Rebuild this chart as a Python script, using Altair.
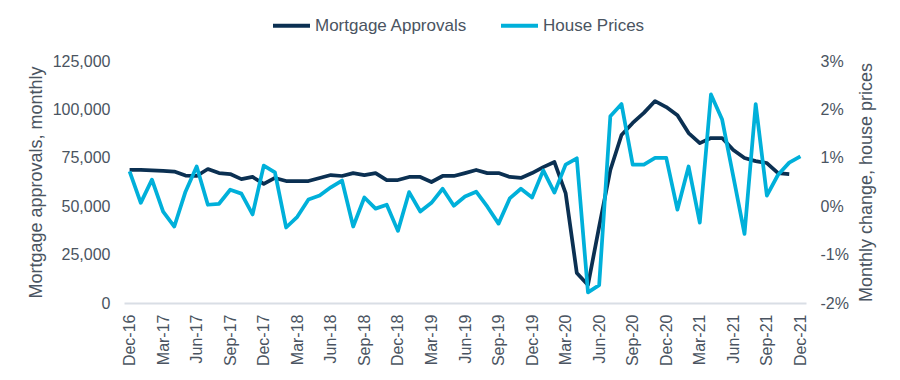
import altair as alt
import pandas as pd

months = [d.strftime("%b-%y") for d in pd.date_range("2016-12-01", "2021-12-01", freq="MS")]

approvals = [
    68700, 68700, 68500, 68200, 67900, 65800, 65600, 69200, 67100, 66600,
    64000, 65100, 61500, 64600, 63000, 63000, 63000, 64600, 66100, 65600,
    67100, 66100, 67100, 63500, 63500, 65100, 65100, 62500, 65600, 65600,
    67100, 68700, 67100, 67100, 65100, 64600, 67100, 70200, 72800, 56800,
    15500, 9300, 39500, 68700, 86800, 93000, 98200, 104300, 101200, 97000,
    87800, 82600, 85200, 85200, 79000, 74900, 73300, 72300, 67100, 66600,
]

house_prices = [
    0.72, 0.07, 0.55, -0.11, -0.42, 0.30, 0.82, 0.03, 0.05, 0.34,
    0.26, -0.17, 0.84, 0.70, -0.44, -0.22, 0.14, 0.22, 0.39, 0.53,
    -0.42, 0.18, -0.05, 0.03, -0.51, 0.29, -0.11, 0.07, 0.36, 0.01,
    0.20, 0.30, -0.01, -0.36, 0.16, 0.36, 0.18, 0.74, 0.28, 0.86,
    0.99, -1.78, -1.63, 1.86, 2.11, 0.86, 0.86, 1.00, 1.00, -0.07,
    0.82, -0.34, 2.31, 1.79, 0.61, -0.57, 2.11, 0.22, 0.65, 0.90,
    1.03,
]

series_names = ["Mortgage Approvals", "House Prices"]
series_colors = ["#0b3052", "#00b0da"]

df_a = pd.DataFrame({"month": months[:len(approvals)], "value": approvals, "series": series_names[0]})
df_h = pd.DataFrame({"month": months[:len(house_prices)], "value": house_prices, "series": series_names[1]})

FONT = "Liberation Sans"
TXT = "#4a5461"

x = alt.X(
    "month:N",
    scale=alt.Scale(type="point", domain=months, padding=0.5),
    axis=alt.Axis(
        values=months[::3], labelAngle=-90, title=None, ticks=False, tickSize=0,
        labelPadding=11, domainColor="#d9dee5", domainWidth=2, grid=False,
        labelFontSize=16, labelColor=TXT, labelFont=FONT,
    ),
)

color = alt.Color(
    "series:N",
    scale=alt.Scale(domain=series_names, range=series_colors),
    legend=alt.Legend(
        title=None, orient="none", direction="horizontal",
        legendX=147, legendY=-56, padding=0,
        symbolType="stroke", symbolSize=1369, symbolStrokeWidth=4,
        labelFontSize=17, labelColor=TXT, labelFont=FONT, labelOffset=3,
        columnPadding=25,
    ),
)

line_a = alt.Chart(df_a).mark_line(strokeWidth=3.75, strokeJoin="round").encode(
    x=x,
    y=alt.Y(
        "value:Q",
        scale=alt.Scale(domain=[0, 125000], nice=False, zero=False),
        axis=alt.Axis(
            orient="left", values=[0, 25000, 50000, 75000, 100000, 125000],
            labelExpr="format(datum.value, ',')",
            title="Mortgage approvals, monthly", ticks=False, tickSize=0, domain=False, grid=False,
            labelPadding=14, labelFontSize=16, labelColor=TXT, labelFont=FONT,
            titleFontSize=18, titleColor=TXT, titleFont=FONT, titleFontWeight="normal", titlePadding=7,
        ),
    ),
    color=color,
)

line_h = alt.Chart(df_h).mark_line(strokeWidth=3.75, strokeJoin="round").encode(
    x=x,
    y=alt.Y(
        "value:Q",
        scale=alt.Scale(domain=[-2, 3], nice=False, zero=False),
        axis=alt.Axis(
            orient="right", values=[-2, -1, 0, 1, 2, 3], labelExpr="datum.value + '%'",
            title="Monthly change, house prices", titleAngle=270, ticks=False, tickSize=0,
            domain=False, grid=False,
            labelPadding=14, labelFontSize=16, labelColor=TXT, labelFont=FONT,
            titleFontSize=18, titleColor=TXT, titleFont=FONT, titleFontWeight="normal", titlePadding=27,
        ),
    ),
    color=color,
)

chart = (
    alt.layer(line_a, line_h)
    .resolve_scale(y="independent")
    .properties(
        width=682, height=242,
        autosize=alt.AutoSizeParams(type="none"),
        padding={"left": 116, "top": 53, "right": 86, "bottom": 68},
    )
    .configure_view(stroke=None)
)

chart.save("out.html", embed_options={"renderer": "svg", "actions": False})
